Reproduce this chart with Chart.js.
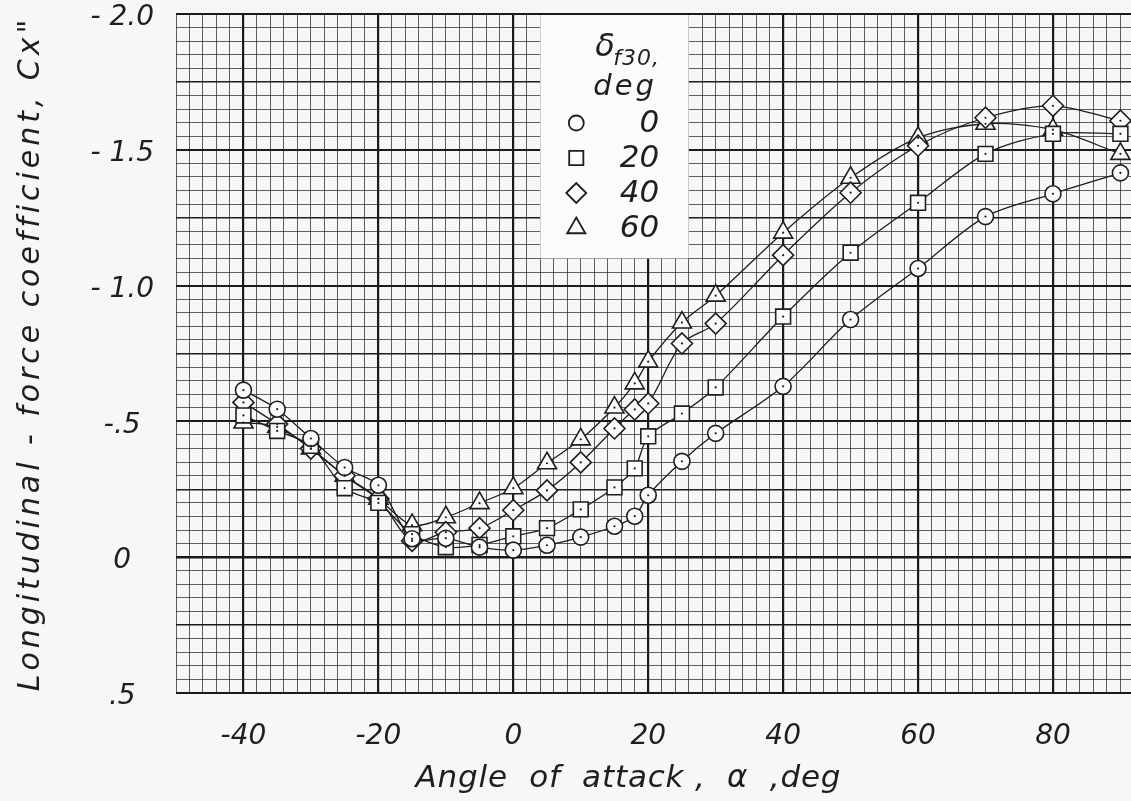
<!DOCTYPE html>
<html>
<head>
<meta charset="utf-8">
<script src="https://cdn.jsdelivr.net/npm/chart.js@4/dist/chart.umd.min.js"></script>
<style>
  html, body { margin: 0; padding: 0; background: #f7f7f5; overflow: hidden; }
  canvas { display: block; }
</style>
</head>
<body>
<canvas id="cx" width="1160" height="801"></canvas>
<script>
// angle of attack, deg
const alpha = [-40, -35, -30, -25, -20, -15, -10, -5, 0, 5, 10, 15, 18, 20, 25, 30, 40, 50, 60, 70, 80, 90];

// longitudinal-force coefficient for each flap deflection
const cxFlap0  = [-0.615, -0.545, -0.437, -0.330, -0.265, -0.068, -0.070, -0.037, -0.026, -0.044, -0.074, -0.114, -0.151, -0.228, -0.353, -0.456, -0.629, -0.875, -1.063, -1.254, -1.338, -1.415];
const cxFlap20 = [-0.522, -0.465, -0.410, -0.254, -0.200, -0.085, -0.037, -0.045, -0.077, -0.107, -0.176, -0.257, -0.327, -0.445, -0.529, -0.625, -0.886, -1.121, -1.305, -1.485, -1.559, -1.559];
const cxFlap40 = [-0.570, -0.490, -0.400, -0.300, -0.215, -0.060, -0.092, -0.107, -0.173, -0.246, -0.349, -0.474, -0.544, -0.566, -0.787, -0.860, -1.112, -1.342, -1.515, -1.618, -1.662, -1.607];
const cxFlap60 = [-0.496, -0.480, -0.400, -0.300, -0.215, -0.118, -0.147, -0.199, -0.254, -0.346, -0.434, -0.551, -0.640, -0.720, -0.864, -0.963, -1.195, -1.397, -1.544, -1.596, -1.574, -1.485];

const flapLabels = ["0", "20", "40", "60"];
const flapMarkers = ["circle", "rect", "rectRot", "triangle"];
const markerSize = { circle: 8, rect: 10.5, rectRot: 10.5, triangle: 11 };

const xTickValues = [-40, -20, 0, 20, 40, 60, 80];
const yTickValues = [-2, -1.5, -1, -0.5, 0, 0.5];
const yTickText = ["- 2.0", "- 1.5", "- 1.0", "-.5", "0", ".5"];

const FONT = "'DejaVu Sans', 'Liberation Sans', sans-serif";
const INK = "#1e1e1e";
const PAPER = "#fbfbf9";

const series = [cxFlap0, cxFlap20, cxFlap40, cxFlap60];

const near = (a, b) => Math.abs(a - b) < 1e-6;
const isMajorX = v => near(v / 20, Math.round(v / 20));
const isHalfY = v => near(v / 0.5, Math.round(v / 0.5));
const isQuarterY = v => near(v / 0.25, Math.round(v / 0.25));

// text with letter spacing stretched to a given width
function spacedText(ctx, text, x, y, width) {
  ctx.letterSpacing = "0px";
  const w = ctx.measureText(text).width;
  const gap = Math.max(0, (width - w) / (text.length - 1));
  ctx.letterSpacing = gap + "px";
  ctx.fillText(text, x + gap / 2, y);
  ctx.letterSpacing = "0px";
}

/* === KEY BOX */
const keyBox = {
  id: "keyBox",
  beforeDatasetsDraw(chart) {
    const { ctx, chartArea, scales: { x, y } } = chart;
    const left = x.getPixelForValue(4);
    const right = x.getPixelForValue(26);
    const top = chartArea.top + 1;
    const bottom = y.getPixelForValue(-1.1);

    ctx.save();
    ctx.fillStyle = PAPER;
    ctx.fillRect(left, top, right - left, bottom - top);

    ctx.fillStyle = INK;
    ctx.textBaseline = "alphabetic";
    ctx.textAlign = "left";
    ctx.font = `italic 32px ${FONT}`;
    ctx.fillText("δ", left + 55, top + 41);
    ctx.font = `italic 22px ${FONT}`;
    ctx.letterSpacing = "1px";
    ctx.fillText("f30,", left + 73, top + 50);
    ctx.font = `italic 29px ${FONT}`;
    ctx.letterSpacing = "3px";
    ctx.fillText("deg", left + 53, top + 80);
    ctx.letterSpacing = "0px";

    ctx.font = `italic 31px ${FONT}`;
    ctx.textAlign = "right";
    ctx.textBaseline = "middle";
    flapLabels.forEach((lbl, i) => {
      const cy = top + 108 + i * 35;
      ctx.fillStyle = INK;
      ctx.fillText(lbl, left + 119, cy + 1);
      ctx.fillStyle = PAPER;
      ctx.strokeStyle = INK;
      ctx.lineWidth = 1.8;
      Chart.helpers.drawPoint(ctx, {
        pointStyle: flapMarkers[i],
        radius: markerSize[flapMarkers[i]] - 0.5,
        borderWidth: 1.8,
        rotation: 0
      }, left + 36, cy);
    });
    ctx.restore();
  }
};

/* === CENTRE DOTS on the plotted symbols */
const centreDots = {
  id: "centreDots",
  afterDatasetsDraw(chart) {
    const ctx = chart.ctx;
    ctx.save();
    ctx.fillStyle = INK;
    chart.data.datasets.forEach((ds, i) => {
      chart.getDatasetMeta(i).data.forEach(pt => {
        ctx.beginPath();
        ctx.arc(pt.x, pt.y, 1.1, 0, Math.PI * 2);
        ctx.fill();
      });
    });
    ctx.restore();
  }
};

/* === AXIS TITLES */
const axisTitles = {
  id: "axisTitles",
  afterDraw(chart) {
    const { ctx, chartArea, scales: { x } } = chart;
    ctx.save();
    ctx.fillStyle = INK;
    ctx.textAlign = "center";

    ctx.font = `italic 31px ${FONT}`;
    ctx.textBaseline = "alphabetic";
    spacedText(ctx, "Angle  of  attack ,  α  ,deg", x.getPixelForValue(17), 787, 425);

    ctx.translate(31, (chartArea.top + chartArea.bottom) / 2 + 2);
    ctx.rotate(-Math.PI / 2);
    ctx.font = `italic 30px ${FONT}`;
    ctx.textBaseline = "middle";
    spacedText(ctx, "Longitudinal - force coefficient, Cx\"", 0, 0, 672);
    ctx.restore();
  }
};

const tickFont = { family: FONT, size: 28, style: "italic" };

const datasets = series.map((vals, i) => ({
  label: flapLabels[i],
  data: alpha.map((a, j) => ({ x: a, y: vals[j] })),
  borderColor: INK,
  borderWidth: 1.3,
  tension: 0.3,
  fill: false,
  pointStyle: flapMarkers[i],
  pointRadius: markerSize[flapMarkers[i]],
  pointBackgroundColor: PAPER,
  pointBorderColor: INK,
  pointBorderWidth: 1.6
}));

new Chart(document.getElementById("cx"), {
  type: "line",
  data: { datasets },
  options: {
    responsive: false,
    animation: false,
    layout: { padding: { top: 14, right: 6, left: 0, bottom: 0 } },
    plugins: { legend: { display: false }, tooltip: { enabled: false } },
    scales: {
      x: {
        type: "linear",
        min: -50,
        max: 94,
        border: { display: false },
        grid: {
          drawTicks: false,
          color: c => isMajorX(c.tick.value) ? "#1a1a1a" : "rgba(35,35,35,0.72)",
          lineWidth: c => isMajorX(c.tick.value) ? 2.2 : 1
        },
        ticks: {
          stepSize: 2,
          autoSkip: false,
          maxRotation: 0,
          minRotation: 0,
          padding: 27,
          color: INK,
          font: tickFont,
          callback: v => xTickValues.some(t => near(t, v)) ? String(Math.round(v)) : ""
        },
        afterFit(scale) {
          scale.height = 108;
          scale.paddingLeft = 0;
          scale.paddingRight = 0;
        }
      },
      y: {
        type: "linear",
        reverse: true,
        min: -2,
        max: 0.5,
        border: { display: false },
        grid: {
          drawTicks: false,
          color: c => isQuarterY(c.tick.value) ? "#1a1a1a" : "rgba(35,35,35,0.72)",
          lineWidth: c => near(c.tick.value, 0) ? 2.4 : isHalfY(c.tick.value) ? 1.9 : isQuarterY(c.tick.value) ? 1.4 : 1
        },
        ticks: {
          stepSize: 0.05,
          autoSkip: false,
          crossAlign: "center",
          padding: 22,
          labelOffset: 4,
          color: INK,
          font: tickFont,
          callback: v => {
            const i = yTickValues.findIndex(t => near(t, v));
            return i >= 0 ? yTickText[i] : "";
          }
        },
        afterFit(scale) {
          scale.width = 176;
          scale.paddingTop = 0;
          scale.paddingBottom = 0;
        }
      }
    }
  },
  plugins: [keyBox, centreDots, axisTitles]
});
</script>
</body>
</html>
